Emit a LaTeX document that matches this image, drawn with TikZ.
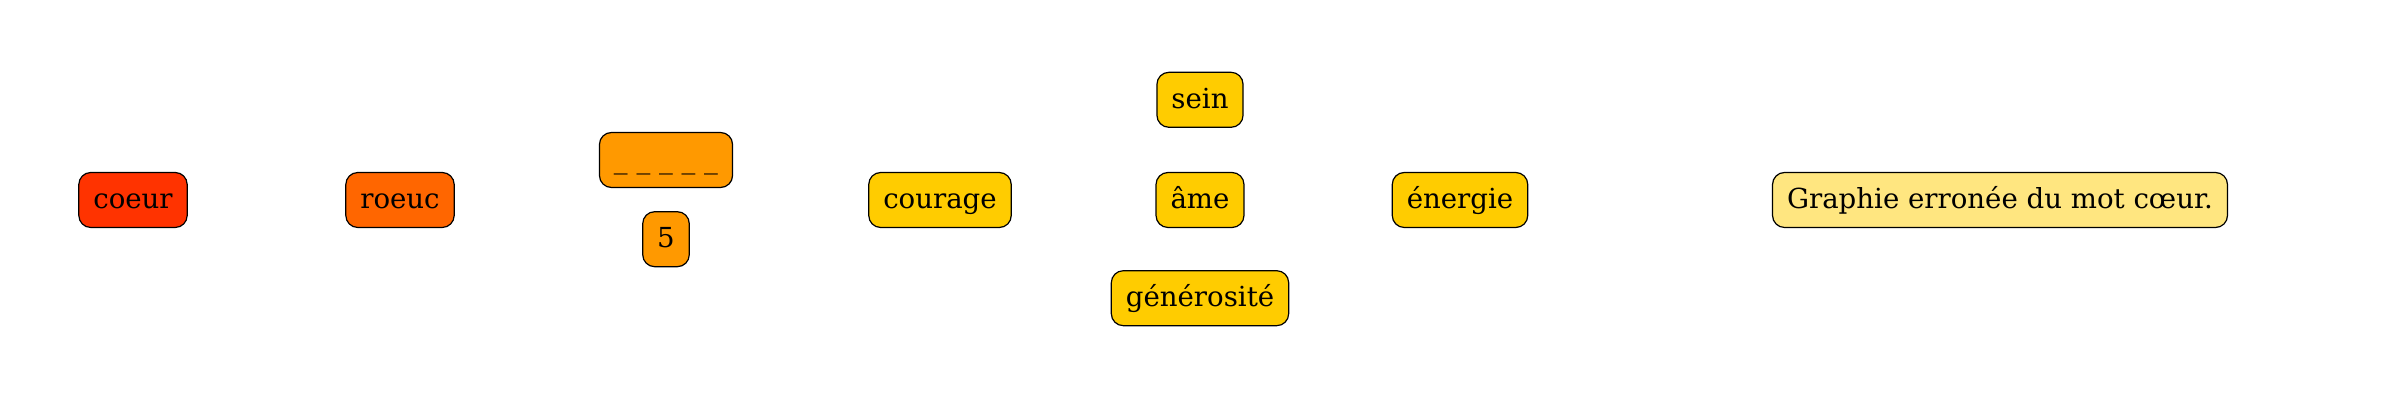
\documentclass[tikz,border=0pt]{standalone}
\usepackage{fontspec}
\setmainfont{DejaVu Serif}
\usetikzlibrary{positioning}
\definecolor{cred}{HTML}{FF3300}
\definecolor{corange}{HTML}{FF6600}
\definecolor{camber}{HTML}{FF9900}
\definecolor{cgold}{HTML}{FFCC00}
\definecolor{cpale}{HTML}{FFE680}

\begin{document}
\begin{tikzpicture}[x=0.5pt,y=-0.5pt,
  every node/.style={draw,line width=0.6pt,rounded corners=6pt,minimum height=27.5pt,
    inner xsep=7.25pt,text height=10pt,text depth=1.5pt,font=\fontsize{13.8}{16}\selectfont}]
\useasboundingbox (0,0) rectangle (2400,400);
\node[fill=cred] (coeur) at (133,200) {coeur};
\node[fill=corange] (roeuc) at (400,200) {roeuc};
\begin{scope}[node distance=11.5pt]
\node[fill=camber] (blanks) at (666,160) {\_\ \_\ \_\ \_\ \_};
\node[fill=camber,below=of blanks] (five) {5};
\end{scope}
\node[fill=cgold] (courage) at (940,200) {courage};
\begin{scope}[node distance=22pt]
\node[fill=cgold] (ame) at (1200,200) {âme};
\node[fill=cgold,above=of ame] (sein) {sein};
\node[fill=cgold,below=21pt of ame] (generosite) {générosité};
\end{scope}
\node[fill=cgold] (energie) at (1460,200) {énergie};
\node[fill=cpale] (graphie) at (2000,200) {Graphie erronée du mot cœur.};
\end{tikzpicture}
\end{document}
